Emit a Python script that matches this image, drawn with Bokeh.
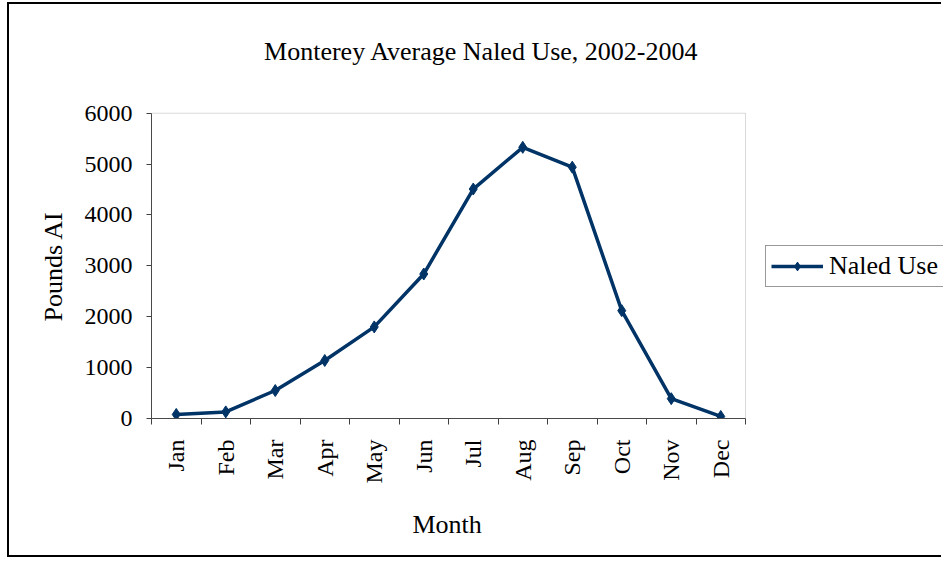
import math
from bokeh.plotting import figure
from bokeh.models import FixedTicker, Legend, LegendItem, Range1d, Label, BoxAnnotation, Title
from bokeh.embed import file_html
from bokeh.resources import INLINE

months = ["Jan", "Feb", "Mar", "Apr", "May", "Jun", "Jul", "Aug", "Sep", "Oct", "Nov", "Dec"]
naled_use = [80, 130, 550, 1140, 1800, 2840, 4510, 5330, 4940, 2120, 390, 40]
y_ticks = [0, 1000, 2000, 3000, 4000, 5000, 6000]
series_name = "Naled Use"
title_text = "Monterey Average Naled Use, 2002-2004"
x_title = "Month"
y_title = "Pounds AI"

FONT = "Liberation Serif"
NAVY = "#003366"
W, H = 934, 555
LEFT, BOTTOM = 142, 140          # canvas px reserved for the axes
AREA_W, AREA_H = 594, 306        # visible plot-area size in px
FRAME_W, FRAME_H = W - LEFT, H - BOTTOM

n = len(months)
y_max = y_ticks[-1]
xs = [i + 0.5 for i in range(n)]

# the frame extends beyond the plot area so that legend and title can live inside it
p = figure(width=W, height=H, output_backend="svg", toolbar_location=None,
           x_range=Range1d(0, n * FRAME_W / AREA_W),
           y_range=Range1d(0, y_max * FRAME_H / AREA_H),
           min_border_left=LEFT, min_border_right=0, min_border_top=0, min_border_bottom=BOTTOM)
p.styles = {"margin-left": "7px", "margin-top": "2px",
            "border-left": "2px solid black", "border-top": "2px solid black",
            "border-bottom": "2px solid black"}
p.background_fill_color = "white"
p.border_fill_color = "white"
p.outline_line_color = None
p.xgrid.visible = False
p.ygrid.visible = False

area = BoxAnnotation(left=0, right=n, bottom=0, top=y_max,
                     fill_color=None, line_color="#808080", line_width=1)
p.add_layout(area)

r_line = p.line(xs, naled_use, line_color=NAVY, line_width=3.5)
r_pts = p.scatter(xs, naled_use, marker="diamond", size=12, color=NAVY)

xa = p.xaxis[0]
xa.bounds = (0, n)
xa.ticker = FixedTicker(ticks=xs, minor_ticks=list(range(n + 1)))
xa.major_label_overrides = {x: m for x, m in zip(xs, months)}
xa.major_label_orientation = math.pi / 2
xa.major_tick_out = 0
xa.major_tick_in = 0
xa.minor_tick_out = 6
xa.minor_tick_in = 0
xa.minor_tick_line_color = "#404040"
xa.axis_line_color = "#404040"
xa.major_label_text_font = FONT
xa.major_label_text_font_size = "24px"
xa.major_label_text_color = "black"
xa.major_label_standoff = 15

ya = p.yaxis[0]
ya.bounds = (0, y_max)
ya.ticker = FixedTicker(ticks=y_ticks, minor_ticks=[])
ya.major_tick_out = 5
ya.major_tick_in = 0
ya.major_tick_line_color = "#404040"
ya.axis_line_color = "#404040"
ya.major_label_text_font = FONT
ya.major_label_text_font_size = "24px"
ya.major_label_text_color = "black"
ya.major_label_standoff = 14

# axis titles placed beside the axes, aligned to the visible plot area
month_title = Title(text=x_title, align="left", offset=261,
                    text_font=FONT, text_font_size="26px", text_font_style="normal",
                    text_color="black")
pounds_title = Title(text=y_title, align="left", offset=97,
                     text_font=FONT, text_font_size="26px", text_font_style="normal",
                     text_color="black")
if "standoff" in Title.properties():
    month_title.standoff = 42
    pounds_title.standoff = 28
p.add_layout(month_title, "below")
p.add_layout(pounds_title, "left")

legend = Legend(items=[LegendItem(label=series_name, renderers=[r_line, r_pts])],
                location=(614, 131), orientation="vertical")
legend.border_line_color = "#333333"
legend.border_line_width = 1
legend.background_fill_color = "white"
legend.label_text_font = FONT
legend.label_text_font_size = "26px"
legend.label_text_color = "black"
legend.glyph_width = 52
legend.glyph_height = 22
legend.padding = 5
legend.margin = 0
legend.label_standoff = 6
p.add_layout(legend, "center")

title = Label(x=330, y=367, x_units="screen", y_units="screen", text=title_text,
              text_font=FONT, text_font_size="26px", text_align="center",
              text_baseline="alphabetic", text_color="black")
p.add_layout(title)

open("out.html", "w").write(file_html(p, INLINE))
